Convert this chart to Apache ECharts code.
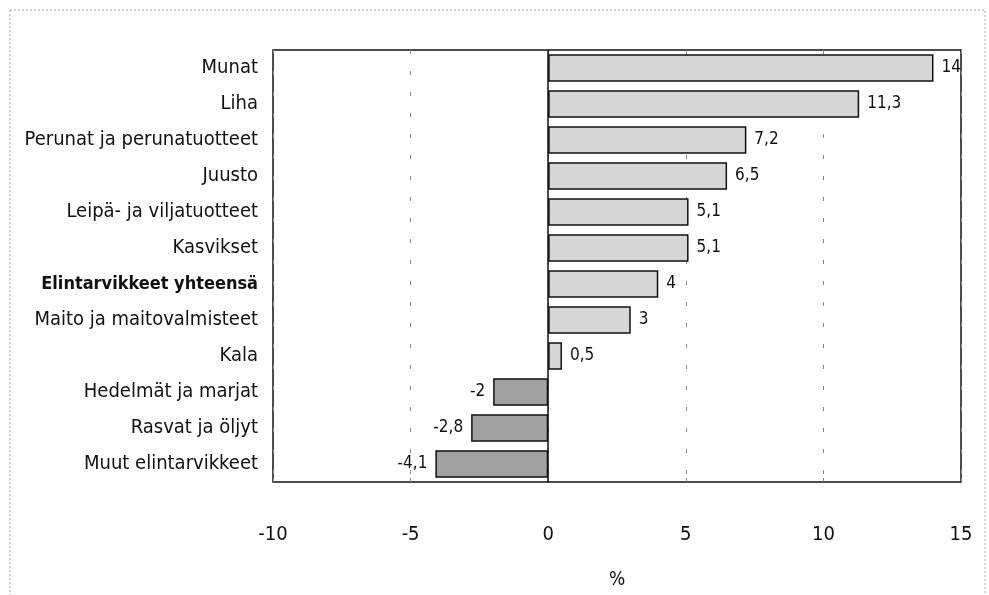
<!DOCTYPE html>
<html><head><meta charset="utf-8">
<script src="https://cdn.jsdelivr.net/npm/echarts@6/dist/echarts.min.js"></script>
<style>html,body{margin:0;padding:0;background:#fff}#c{width:989px;height:595px}</style>
</head><body><div id="c"></div>
<script>
const categories = ["Munat","Liha","Perunat ja perunatuotteet","Juusto","Leipä- ja viljatuotteet","Kasvikset","Elintarvikkeet yhteensä","Maito ja maitovalmisteet","Kala","Hedelmät ja marjat","Rasvat ja öljyt","Muut elintarvikkeet"];
const values = [14,11.3,7.2,6.5,5.1,5.1,4,3,0.5,-2,-2.8,-4.1];
const boldCategory = "Elintarvikkeet yhteensä";
const xTicks = [-10,-5,0,5,10,15];
const FONT = '"Liberation Sans Narrow","DejaVu Sans Condensed",sans-serif';

const chart = echarts.init(document.getElementById('c'));
chart.setOption({
  animation:false,
  backgroundColor:'#fff',
  graphic:[{type:'rect',shape:{x:10,y:10,width:975,height:600},style:{fill:'none',stroke:'#aaa',lineWidth:1,lineDash:[2,2]}}],
  grid:{left:273,right:28,top:50,bottom:112,show:true,borderColor:'#111',borderWidth:1.5},
  xAxis:{type:'value',min:xTicks[0],max:xTicks[xTicks.length-1],interval:5,
    name:'%',nameLocation:'middle',nameGap:89,nameTextStyle:{fontFamily:FONT,fontSize:19,color:'#111'},
    axisLine:{show:false},axisTick:{show:true,inside:true,length:4,lineStyle:{color:'#888'}},
    axisLabel:{fontFamily:FONT,fontSize:20,color:'#111',margin:43,formatter:v=>String(v)},
    splitLine:{show:true,lineStyle:{color:'#888',type:[4,17],width:1}}},
  yAxis:{type:'category',data:categories,inverse:true,
    axisLine:{show:false,onZero:false},axisTick:{show:false},
    axisLabel:{margin:15,fontFamily:FONT,fontSize:20,color:'#111',
      formatter:v=> v===boldCategory ? '{b|'+v+'}' : v,
      rich:{b:{fontFamily:FONT,fontSize:18,fontWeight:'bold',color:'#111'}}}},
  series:[{type:'bar',barCategoryGap:'23%',
    data:values.map(v=>({value:v,itemStyle:{color:v<0?'#a2a2a2':'#d6d6d6',borderColor:'#111',borderWidth:1.5},
      label:{show:true,position:v<0?'left':'right',distance:8}})),
    label:{fontFamily:FONT,fontSize:17,color:'#111',formatter:p=>String(p.value).replace('.',',')},
    markLine:{silent:true,symbol:'none',label:{show:false},lineStyle:{color:'#111',type:'solid',width:1.5},data:[{xAxis:0}]}
  }]
});
</script></body></html>
